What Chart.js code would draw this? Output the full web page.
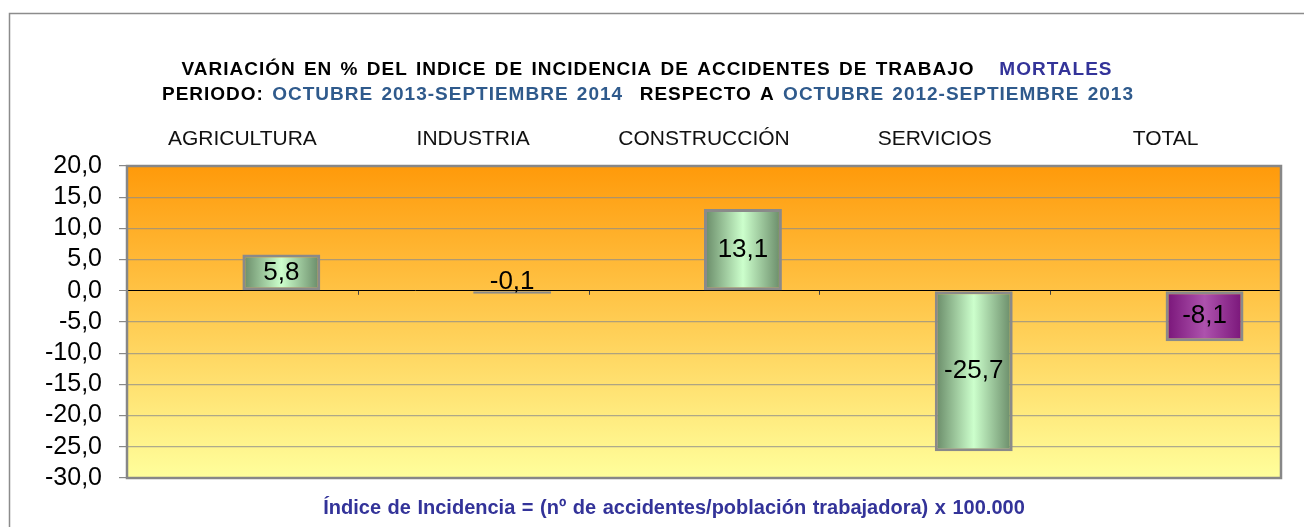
<!DOCTYPE html>
<html>
<head>
<meta charset="utf-8">
<script src="https://cdn.jsdelivr.net/npm/chart.js@4.4.0/dist/chart.umd.min.js"></script>
<style>
  body { margin: 0; background: #fff; overflow: hidden; }
  #caja { position: relative; width: 1304px; height: 527px; }
</style>
</head>
<body>
<div id="caja"><canvas id="grafico"></canvas></div>
<script>
// Datos del gráfico
const categorias = ['AGRICULTURA', 'INDUSTRIA', 'CONSTRUCCIÓN', 'SERVICIOS', 'TOTAL'];
const variacion = [5.8, -0.1, 13.1, -25.7, -8.1];
const serieVacia = [null, null, null, null, null];
const ejeMin = -30;
const ejeMax = 20;
const ejePaso = 5;

const titulo1 = [['VARIACIÓN EN % DEL INDICE DE INCIDENCIA DE ACCIDENTES DE TRABAJO   ', '#000'], ['MORTALES', '#333399']];
const titulo2 = [['PERIODO: ', '#000'], ['OCTUBRE 2013-SEPTIEMBRE 2014', '#2f5a8c'], ['  RESPECTO A ', '#000'], ['OCTUBRE 2012-SEPTIEMBRE 2013', '#2f5a8c']];
const notaPie = 'Índice de Incidencia = (nº de accidentes/población trabajadora) x 100.000';

const FUENTE = '"Liberation Sans", Arial, sans-serif';
const fmt = v => v.toFixed(1).replace('.', ',');
const CAT_PCT = 0.675;

// degradado horizontal para cada barra
function colorBarra(ctx) {
    const chart = ctx.chart;
    const xs = chart.scales.x;
    if (!xs || !chart.chartArea) return '#aaddaa';
    const i = ctx.dataIndex;
    const ancho = (xs.width / categorias.length) * CAT_PCT / 2;
    const izq = xs.getPixelForValue(i);
    const g = chart.ctx.createLinearGradient(izq, 0, izq + ancho, 0);
    if (i === categorias.length - 1) {
        g.addColorStop(0, '#781478');
        g.addColorStop(0.5, '#ad52ad');
        g.addColorStop(1, '#781478');
    } else {
        g.addColorStop(0, '#678866');
        g.addColorStop(0.5, '#ccffcc');
        g.addColorStop(1, '#678866');
    }
    return g;
}

function textoRico(ctx, partes, cx, y) {
    let total = 0;
    partes.forEach(p => total += ctx.measureText(p[0]).width);
    let x = cx - total / 2;
    partes.forEach(p => {
        ctx.fillStyle = p[1];
        ctx.fillText(p[0], x, y);
        x += ctx.measureText(p[0]).width;
    });
}

const pluginFondo = {
    id: 'fondo',
    beforeDraw(chart) {
        const { ctx, chartArea: a } = chart;
        const g = ctx.createLinearGradient(0, a.top, 0, a.bottom);
        g.addColorStop(0, '#ff9a0a');
        g.addColorStop(1, '#ffff9c');
        ctx.save();
        ctx.fillStyle = g;
        ctx.fillRect(a.left, a.top, a.right - a.left, a.bottom - a.top);
        ctx.restore();
    },
    afterDatasetsDraw(chart) {
        const { ctx } = chart;
        const meta = chart.getDatasetMeta(1);
        const y0 = chart.scales.y.getPixelForValue(0);
        ctx.save();
        ctx.font = '26px ' + FUENTE;
        ctx.fillStyle = '#000';
        ctx.textAlign = 'center';
        ctx.textBaseline = 'middle';
        meta.data.forEach((bar, i) => {
            let y = (bar.y + bar.base) / 2;
            if (Math.abs(bar.y - bar.base) < 20) y = y0 - 9;
            ctx.fillText(fmt(variacion[i]), bar.x, y);
        });
        ctx.restore();
    },
    afterDraw(chart) {
        const { ctx, chartArea: a } = chart;
        const xs = chart.scales.x;
        const y0 = chart.scales.y.getPixelForValue(0);
        ctx.save();
        // marcas del eje de categorías
        ctx.strokeStyle = '#444';
        ctx.lineWidth = 1;
        const paso = xs.width / categorias.length;
        for (let i = 1; i < categorias.length; i++) {
            const x = Math.round(a.left + paso * i) + 0.5;
            ctx.beginPath();
            ctx.moveTo(x, y0);
            ctx.lineTo(x, y0 + 4);
            ctx.stroke();
        }
        // borde del área de trazado
        ctx.strokeStyle = '#878787';
        ctx.lineWidth = 2.5;
        ctx.strokeRect(a.left, a.top, a.right - a.left, a.bottom - a.top);
        // marco exterior
        ctx.strokeStyle = '#8c8c8c';
        ctx.lineWidth = 1.5;
        ctx.beginPath();
        ctx.moveTo(9.5, 530);
        ctx.lineTo(9.5, 13.5);
        ctx.lineTo(1310, 13.5);
        ctx.stroke();
        // títulos
        ctx.font = 'bold 19px ' + FUENTE;
        ctx.letterSpacing = '1px';
        ctx.wordSpacing = '2px';
        ctx.textBaseline = 'middle';
        ctx.textAlign = 'left';
        textoRico(ctx, titulo1, 647, 70);
        textoRico(ctx, titulo2, 648, 95);
        ctx.font = 'bold 20px ' + FUENTE;
        ctx.letterSpacing = '0px';
        ctx.wordSpacing = '1px';
        ctx.fillStyle = '#333399';
        ctx.textAlign = 'center';
        ctx.fillText(notaPie, 674, 508);
        ctx.restore();
    }
};

new Chart(document.getElementById('grafico'), {
    type: 'bar',
    data: {
        labels: categorias,
        datasets: [
            { label: 'vacía', data: serieVacia },
            {
                label: 'Variación %',
                data: variacion,
                backgroundColor: colorBarra,
                borderColor: '#8a8a8a',
                borderWidth: 3,
                borderSkipped: false,
                minBarLength: 3
            }
        ]
    },
    options: {
        responsive: true,
        maintainAspectRatio: false,
        animation: false,
        categoryPercentage: CAT_PCT,
        barPercentage: 1,
        layout: { padding: { left: 0, right: 23, top: 0, bottom: 49 } },
        plugins: {
            legend: { display: false },
            tooltip: { enabled: false },
            title: { display: false }
        },
        scales: {
            x: {
                position: 'top',
                grid: { display: false, drawTicks: false },
                border: { display: false },
                ticks: {
                    color: '#111',
                    font: { family: FUENTE, size: 21 },
                    padding: 14,
                    maxRotation: 0
                },
                afterFit(scale) { scale.height = 166; }
            },
            y: {
                min: ejeMin,
                max: ejeMax,
                border: { display: false },
                grid: {
                    color: c => c.tick && c.tick.value === 0 ? '#000' : 'rgba(140,140,140,0.7)',
                    lineWidth: c => c.tick && c.tick.value === 0 ? 1 : 1.2,
                    tickColor: '#888',
                    tickLength: 8
                },
                ticks: {
                    stepSize: ejePaso,
                    autoSkip: false,
                    color: '#000',
                    font: { family: FUENTE, size: 25 },
                    padding: 17,
                    callback: v => fmt(v)
                },
                afterFit(scale) { scale.width = 127; }
            }
        }
    },
    plugins: [pluginFondo]
});
</script>
</body>
</html>
